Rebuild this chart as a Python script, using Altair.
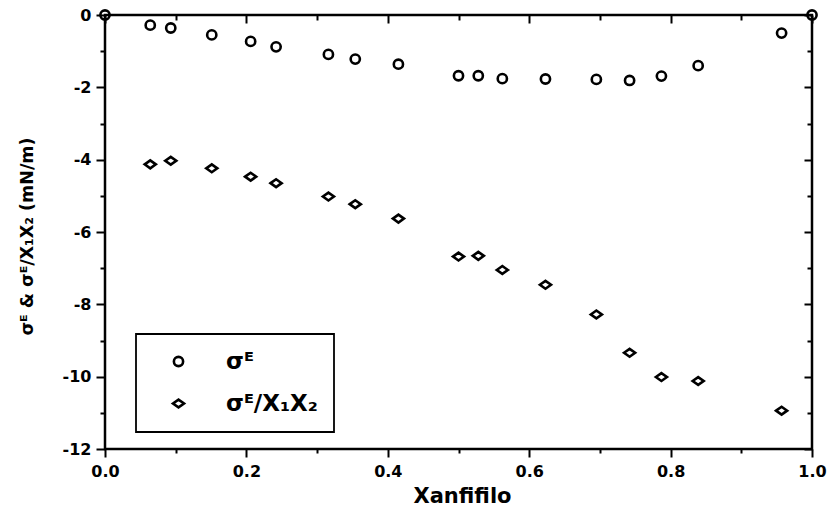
import altair as alt
import pandas as pd

# ---- data ----
x_vals = [0.064, 0.093, 0.151, 0.206, 0.242, 0.316, 0.354, 0.415, 0.500,
          0.528, 0.562, 0.623, 0.695, 0.742, 0.787, 0.839, 0.957]
sigma_e = [-0.28, -0.36, -0.55, -0.73, -0.88, -1.09, -1.22, -1.36, -1.68,
           -1.68, -1.76, -1.77, -1.78, -1.81, -1.69, -1.40, -0.50]
sigma_e_x1x2 = [-4.13, -4.03, -4.24, -4.47, -4.65, -5.02, -5.23, -5.63, -6.68,
                -6.66, -7.05, -7.46, -8.28, -9.34, -10.01, -10.12, -10.94]
x_pure = [0.0, 1.0]
sigma_pure = [0.0, 0.0]

S1 = "σᴱ"
S2 = "σᴱ/X₁X₂"
x_major = [0.0, 0.2, 0.4, 0.6, 0.8, 1.0]
x_minor = [0.1, 0.3, 0.5, 0.7, 0.9]
y_major = [0, -2, -4, -6, -8, -10, -12]
y_minor = [-1, -3, -5, -7, -9, -11]

rows = []
for xv, yv in zip(x_pure + x_vals, sigma_pure + sigma_e):
    rows.append({"x": xv, "y": yv, "series": S1})
for xv, yv in zip(x_vals, sigma_e_x1x2):
    rows.append({"x": xv, "y": yv, "series": S2})
df = pd.DataFrame(rows)

FONT = "DejaVu Sans"
DIAMOND = "M -1.2 0 L 0 -0.85 L 1.2 0 L 0 0.85 Z"
W, H = 707, 434

xscale = alt.Scale(domain=[0, 1], nice=False, zero=False)
yscale = alt.Scale(domain=[-12, 0], nice=False, zero=False)

common = dict(domain=False, grid=False, tickColor="black", tickWidth=2,
              labelFlush=False, labelOverlap=False)

# main layer: data points, labelled bottom/left axes, legend
points = alt.Chart(df).mark_point(
    filled=False, color="black", strokeWidth=2.6, size=85, opacity=1
).encode(
    x=alt.X("x:Q", scale=xscale, axis=alt.Axis(
        orient="bottom",
        values=x_major, labelExpr="format(datum.value, '.1f')",
        tickSize=8, labelPadding=6, labelFont=FONT, labelFontSize=16,
        labelFontWeight="bold", labelColor="black",
        title="Xanfifilo", titleFont=FONT, titleFontSize=21,
        titleFontWeight="bold", titleColor="black",
        titleX=357, titleY=53, titleAlign="center",
        titleBaseline="alphabetic", **common)),
    y=alt.Y("y:Q", scale=yscale, axis=alt.Axis(
        orient="left",
        values=y_major, labelExpr="toString(datum.value)",
        tickSize=9, labelPadding=5, labelFont=FONT, labelFontSize=16,
        labelFontWeight="bold", labelColor="black",
        title="σᴱ & σᴱ/X₁X₂ (mN/m)", titleFont=FONT, titleFontSize=17.5,
        titleFontWeight="bold", titleColor="black", titleAngle=270,
        titleX=-78, titleY=221, titleAlign="center",
        titleBaseline="middle", **common)),
    shape=alt.Shape("series:N", scale=alt.Scale(domain=[S1, S2],
                    range=["circle", DIAMOND]),
                    legend=alt.Legend(
                        orient="none", legendX=31, legendY=319, title=None,
                        padding=16, rowPadding=18, symbolOffset=15,
                        labelOffset=36, labelFont=FONT, labelFontSize=23,
                        labelFontWeight="bold", labelColor="black",
                        symbolSize=85, symbolStrokeWidth=2.6,
                        symbolStrokeColor="black", fillColor="white",
                        strokeColor="black")),
)

def helper(xaxis, yaxis):
    return alt.Chart(df).mark_point(opacity=0).encode(
        x=alt.X("x:Q", scale=xscale, axis=xaxis),
        y=alt.Y("y:Q", scale=yscale, axis=yaxis),
    )

minor_bl = helper(
    alt.Axis(orient="bottom", values=x_minor, tickSize=4, labels=False,
             title=None, **common),
    alt.Axis(orient="left", values=y_minor, tickSize=5, labels=False,
             title=None, **common),
)
major_tr = helper(
    alt.Axis(orient="top", offset=-8, values=x_major, tickSize=8,
             labels=False, title=None, **common),
    alt.Axis(orient="right", offset=-8, values=y_major, tickSize=8,
             labels=False, title=None, **common),
)
minor_tr = helper(
    alt.Axis(orient="top", offset=-5, values=x_minor, tickSize=5,
             labels=False, title=None, **common),
    alt.Axis(orient="right", offset=-5, values=y_minor, tickSize=5,
             labels=False, title=None, **common),
)

chart = alt.layer(points, minor_bl, major_tr, minor_tr).resolve_axis(
    x="independent", y="independent"
).properties(
    width=W, height=H,
    padding={"left": 105, "top": 15, "right": 22, "bottom": 71},
    autosize=alt.AutoSizeParams(type="none"),
    background="white",
).configure_view(
    stroke="black", strokeWidth=2.5
).configure_legend(
    strokeWidth=1.8
)

chart.save("out.html", embed_options={"renderer": "svg", "actions": False})
